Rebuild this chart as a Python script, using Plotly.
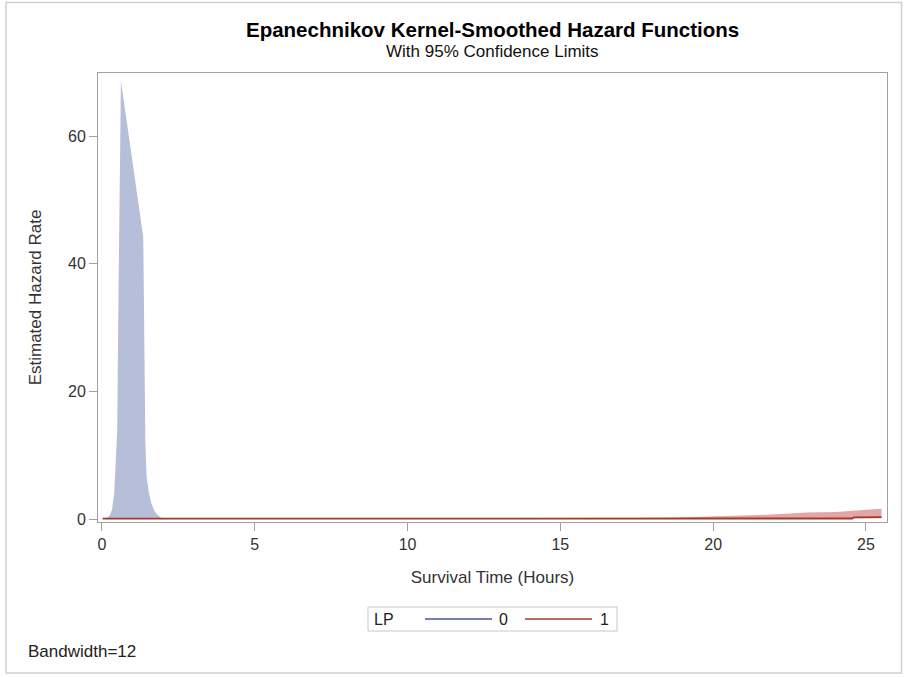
import plotly.graph_objects as go

# Kernel-smoothed hazard estimates with 95% confidence limits, by LP group
# LP = 0: confidence band (hours)
lp0_time = [0.02, 0.15, 0.25, 0.33, 0.40, 0.46, 0.50, 0.54, 0.58, 0.62,
            1.35, 1.38, 1.42, 1.46, 1.54, 1.62, 1.72, 1.83, 1.95]
lp0_upper = [0.1, 0.2, 0.5, 1.5, 4.0, 9.0, 14.0, 35.0, 58.0, 68.7,
             44.2, 25.0, 12.0, 6.6, 4.0, 2.4, 1.2, 0.6, 0.1]
lp0_lower = [0.0] * len(lp0_time)

# LP = 1: confidence band
lp1_time = [0.02, 5.0, 10.0, 15.0, 18.5, 19.5, 20.5, 21.5, 22.5, 23.06,
            24.0, 24.58, 25.0, 25.51]
lp1_upper = [0.05, 0.05, 0.06, 0.08, 0.18, 0.30, 0.42, 0.62, 0.85, 1.00,
             1.10, 1.25, 1.45, 1.60]
lp1_lower = [0.0, 0.0, 0.0, 0.0, 0.0, 0.0, 0.0, 0.0, 0.0, 0.0,
             0.0, 0.05, 0.08, 0.10]

# LP = 1: hazard estimate
lp1_est_time = [0.02, 5.0, 10.0, 15.0, 20.0, 24.55, 24.6, 25.51]
lp1_est = [0.05, 0.05, 0.05, 0.05, 0.06, 0.08, 0.25, 0.30]

legend_title = "LP"
group_labels = ["0", "1"]
x_ticks = [0, 5, 10, 15, 20, 25]
y_ticks = [0, 20, 40, 60]

BLUE_LINE = "#445694"
BLUE_FILL = "rgba(111,126,179,0.5)"
RED_LINE = "#A23A2E"
RED_FILL = "rgba(208,91,91,0.55)"
FONT = "Liberation Sans, Arial, sans-serif"
TEXT = "#222222"

fig = go.Figure()


def band(x, lo, hi, fill):
    fig.add_trace(go.Scatter(x=x, y=lo, mode="lines", line=dict(width=0),
                             showlegend=False, hoverinfo="skip"))
    fig.add_trace(go.Scatter(x=x, y=hi, mode="lines", line=dict(width=0),
                             fill="tonexty", fillcolor=fill,
                             showlegend=False, hoverinfo="skip"))


band(lp0_time, lp0_lower, lp0_upper, BLUE_FILL)
band(lp1_time, lp1_lower, lp1_upper, RED_FILL)

fig.add_trace(go.Scatter(x=lp1_est_time, y=lp1_est, mode="lines",
                         line=dict(color=RED_LINE, width=1.8),
                         name=group_labels[1], showlegend=False))

# Plot-area geometry in pixels (figure is 904 x 677)
W, H = 904, 677
L, R, T, B = 98, 887, 73, 522
pw, ph = R - L, B - T


def px(x):
    return (x - L) / pw


def py(y):
    return (B - y) / ph


axis_common = dict(showline=True, linecolor="#a0a0a0", linewidth=1,
                   mirror=True, ticks="outside", ticklen=8, tickcolor="#a0a0a0",
                   showgrid=False, zeroline=False,
                   tickfont=dict(family=FONT, size=16, color="#333333"),
                   title_font=dict(family=FONT, size=17, color="#333333"))

fig.update_layout(
    width=W, height=H,
    margin=dict(l=L, r=W - R, t=T, b=H - B),
    paper_bgcolor="white", plot_bgcolor="white",
    xaxis=dict(range=[-0.13, 25.69], tickvals=x_ticks,
               title=dict(text="Survival Time (Hours)", standoff=18),
               **axis_common),
    yaxis=dict(range=[-0.47, 69.9], tickvals=y_ticks,
               title=dict(text="Estimated Hazard Rate", standoff=22),
               **axis_common),
    showlegend=False,
)

fig.add_annotation(text="<b>Epanechnikov Kernel-Smoothed Hazard Functions</b>",
                   xref="paper", yref="paper", x=0.5, y=py(30),
                   xanchor="center", yanchor="middle", showarrow=False,
                   font=dict(family=FONT, size=20.5, color="#000"))
fig.add_annotation(text="With 95% Confidence Limits",
                   xref="paper", yref="paper", x=0.5, y=py(52),
                   xanchor="center", yanchor="middle", showarrow=False,
                   font=dict(family=FONT, size=17, color="#111"))
fig.add_annotation(text="Bandwidth=12",
                   xref="paper", yref="paper", x=px(26), y=py(651),
                   xanchor="left", yanchor="middle", showarrow=False,
                   font=dict(family=FONT, size=17, color=TEXT))

# Legend box: title, then a line sample and label per group
lg_y = py(619)
fig.add_shape(type="rect", xref="paper", yref="paper",
              x0=px(368), x1=px(617), y0=py(631), y1=py(607),
              line=dict(color="#c8c8c8", width=1), fillcolor="white")
fig.add_annotation(text=legend_title, xref="paper", yref="paper",
                   x=px(372), y=lg_y, xanchor="left", yanchor="middle",
                   showarrow=False, font=dict(family=FONT, size=16, color=TEXT))
for (x0, x1, tx), color, label in zip([(425, 492, 497), (525, 592, 598)],
                                      [BLUE_LINE, RED_LINE], group_labels):
    fig.add_shape(type="line", xref="paper", yref="paper",
                  x0=px(x0), x1=px(x1), y0=lg_y, y1=lg_y,
                  line=dict(color=color, width=1.5))
    fig.add_annotation(text=label, xref="paper", yref="paper",
                       x=px(tx), y=lg_y, xanchor="left", yanchor="middle",
                       showarrow=False, font=dict(family=FONT, size=16, color=TEXT))

# Outer frame around the whole graphic
fig.add_shape(type="rect", xref="paper", yref="paper",
              x0=px(6), x1=px(901.5), y0=py(673), y1=py(2.5),
              line=dict(color="#d0d0d0", width=1.5), fillcolor="rgba(0,0,0,0)",
              layer="below")

fig.write_html("out.html")
